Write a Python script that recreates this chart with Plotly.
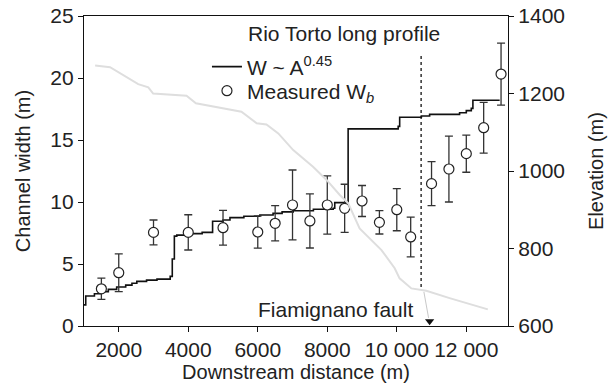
import plotly.graph_objects as go

# Measured channel width (m) with error bars
meas_x = [1500, 2000, 3000, 4000, 5000, 6000, 6500, 7000, 7500, 8000,
          8500, 9000, 9500, 10000, 10400, 11000, 11500, 12000, 12500, 13000]
meas_w = [3.0, 4.3, 7.55, 7.55, 7.93, 7.58, 8.28, 9.76, 8.47, 9.76,
          9.49, 10.08, 8.36, 9.38, 7.18, 11.48, 12.66, 13.9, 15.99, 20.32]
meas_err = [0.86, 1.52, 1.0, 1.42, 1.4, 1.3, 1.42, 2.82, 2.18, 2.35,
            1.94, 1.25, 0.94, 1.7, 1.6, 1.78, 2.66, 1.5, 2.05, 2.5]

# Predicted width W ~ A^0.45 (step line)
pred_x = [1000, 1050, 1300, 1460, 1700, 1940, 2200, 2380, 2520, 2800, 3100,
          3480, 3540, 3600, 3670, 4000, 4400, 4700, 5000, 5200, 5600, 6060,
          6440, 6700, 7020, 7600, 8170, 8215, 8600, 10040, 10083, 10707,
          10945, 11807, 12000, 12144, 12190, 12960]
pred_w = [1.7, 2.42, 2.6, 2.77, 2.95, 3.15, 3.3, 3.45, 3.6, 3.7, 3.78,
          4.0, 5.4, 7.25, 7.33, 7.45, 7.55, 8.45, 8.55, 8.74, 8.85, 8.95,
          9.08, 9.2, 9.3, 9.42, 9.5, 9.95, 15.9, 16.1, 16.83, 16.94,
          17.07, 17.2, 17.37, 17.55, 18.2, 18.2]

# Long profile (elevation, m)
prof_x = [1320, 1750, 2560, 2850, 2990, 3950, 4220, 5530, 5970, 6250, 6590,
          7020, 7590, 7980, 8360, 8600, 8930, 9560, 9940, 10080, 10420,
          10850, 11520, 12620]
prof_z = [1272, 1268, 1224, 1216, 1200, 1194, 1175, 1153, 1123, 1120, 1097,
          1054, 1011, 977, 938, 917, 852, 796, 749, 723, 697,
          691, 672, 643]

fault_x = 10700
fault_w_range = [3.15, 22.0]

x_ticks = [2000, 4000, 6000, 8000, 10000, 12000]
x_tick_labels = ["2000", "4000", "6000", "8000", "10 000", "12 000"]

FONT = "Liberation Sans, Arial, Helvetica, sans-serif"
TXT = "#222222"

fig = go.Figure()

fig.add_trace(go.Scatter(
    x=prof_x, y=prof_z, yaxis="y2", mode="lines",
    line=dict(color="#dedede", width=2), showlegend=False, hoverinfo="skip"))

fig.add_trace(go.Scatter(
    x=[fault_x, fault_x], y=fault_w_range, mode="lines",
    line=dict(color="#111111", width=1.3, dash="dot"), showlegend=False))

fig.add_trace(go.Scatter(
    x=pred_x, y=pred_w, mode="lines", line_shape="hv",
    line=dict(color="#111111", width=1.6),
    name="W ~ A<sup>0.45</sup>", legend="legend"))

fig.add_trace(go.Scatter(
    x=meas_x, y=meas_w, mode="markers",
    marker=dict(symbol="circle", size=10, color="white",
                line=dict(color="#222222", width=1.2)),
    error_y=dict(type="data", array=meas_err, color="#333333",
                 thickness=1.3, width=4),
    name="Measured W<sub><i>b</i></sub>", legend="legend2"))

# Fault arrow: grey shaft and black head
fig.add_shape(type="line", xref="x", yref="y",
              x0=10780, y0=2.75, x1=10915, y1=0.65,
              line=dict(color="#c8c8c8", width=1))
fig.add_trace(go.Scatter(
    x=[10945], y=[0.38], mode="markers",
    marker=dict(symbol="triangle-down", size=8, color="#111111"),
    showlegend=False, cliponaxis=False))

fig.add_annotation(x=8474, y=23.57, xref="x", yref="y",
                   text="Rio Torto long profile", showarrow=False,
                   font=dict(size=21, color=TXT, family=FONT))
fig.add_annotation(x=8244, y=1.3, xref="x", yref="y",
                   text="Fiamignano fault", showarrow=False,
                   font=dict(size=21, color=TXT, family=FONT))

axis_common = dict(showgrid=False, zeroline=False, showline=True,
                   linecolor="#111111", linewidth=1.2, ticks="outside",
                   ticklen=5, tickcolor="#111111", tickwidth=1.2,
                   automargin=False,
                   tickfont=dict(size=21, color=TXT, family=FONT))

legend_common = dict(xanchor="left", yanchor="middle",
                     bgcolor="rgba(0,0,0,0)",
                     font=dict(size=21, color=TXT, family=FONT))

fig.update_layout(
    width=615, height=388,
    margin=dict(l=84, r=107, t=16, b=62, autoexpand=False),
    paper_bgcolor="white", plot_bgcolor="white",
    font=dict(family=FONT, color=TXT),
    xaxis=dict(range=[1000, 13200], tickvals=x_ticks, ticktext=x_tick_labels,
               mirror=True,
               title=dict(text="Downstream distance (m)",
                          font=dict(size=20, color=TXT, family=FONT), standoff=2),
               **axis_common),
    yaxis=dict(range=[0, 25], tickvals=[0, 5, 10, 15, 20, 25],
               title=dict(text="Channel width (m)",
                          font=dict(size=20, color=TXT, family=FONT), standoff=14),
               **axis_common),
    yaxis2=dict(range=[600, 1400], tickvals=[600, 800, 1000, 1200, 1400],
                overlaying="y", side="right",
                title=dict(text="Elevation (m)",
                           font=dict(size=20, color=TXT, family=FONT), standoff=24),
                **axis_common),
    legend=dict(x=0.29, y=0.8355, **legend_common),
    legend2=dict(x=0.29, y=0.758, **legend_common),
    showlegend=True,
)

fig.write_html("out.html")
